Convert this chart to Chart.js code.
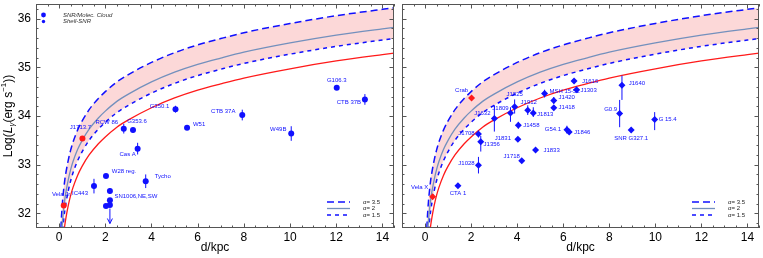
<!DOCTYPE html>
<html>
<head>
<meta charset="utf-8">
<script src="https://cdn.jsdelivr.net/npm/chart.js@4.4.0/dist/chart.umd.min.js"></script>
<style>
  html, body { margin: 0; padding: 0; background: #fff; }
  #wrap { position: relative; width: 763px; height: 258px; }
  .panel { position: absolute; top: 0; height: 258px; }
  #left { left: 0; width: 398px; }
  #right { left: 398px; width: 365px; }
</style>
</head>
<body>
<div id="wrap">
  <div class="panel" id="left"><canvas id="chartLeft"></canvas></div>
  <div class="panel" id="right"><canvas id="chartRight"></canvas></div>
</div>
<script>
// tick labels
const xTickLabels = [0, 2, 4, 6, 8, 10, 12, 14];
const yTickLabels = [32, 33, 34, 35, 36];

// sensitivity curves (distance in kpc, log L)
const curveD = [0.06, 0.08, 0.1, 0.12, 0.15, 0.2, 0.25, 0.3, 0.4, 0.5, 0.6, 0.8, 1, 1.3, 1.7, 2, 2.5, 3, 4, 5, 6, 7, 8, 10, 12, 14, 14.5];
const alpha35 = [31.46, 31.71, 31.90, 32.06, 32.25, 32.50, 32.70, 32.85, 33.10, 33.30, 33.46, 33.71, 33.90, 34.13, 34.36, 34.50, 34.70, 34.85, 35.10, 35.30, 35.46, 35.59, 35.71, 35.90, 36.06, 36.19, 36.22];
const alpha2 = [31.06, 31.31, 31.50, 31.66, 31.85, 32.10, 32.30, 32.45, 32.70, 32.90, 33.06, 33.31, 33.50, 33.73, 33.96, 34.10, 34.30, 34.45, 34.70, 34.90, 35.06, 35.19, 35.31, 35.50, 35.66, 35.79, 35.82];
const alpha15 = [30.83, 31.08, 31.27, 31.43, 31.62, 31.87, 32.07, 32.22, 32.47, 32.67, 32.83, 33.08, 33.27, 33.50, 33.73, 33.87, 34.07, 34.22, 34.47, 34.67, 34.83, 34.96, 35.08, 35.27, 35.43, 35.56, 35.59];
const redCurve = [30.53, 30.78, 30.97, 31.13, 31.32, 31.57, 31.77, 31.92, 32.17, 32.37, 32.53, 32.78, 32.97, 33.20, 33.43, 33.57, 33.77, 33.92, 34.17, 34.37, 34.53, 34.66, 34.78, 34.97, 35.13, 35.26, 35.29];

// left panel: SNRs
const snrNames = ['RCW 86', 'G353.6', 'Cas A', 'G350.1', 'W51', 'CTB 37A', 'W49B', 'G106.3', 'CTB 37B', 'W28 reg.', 'Tycho', 'IC443', 'SN1006,NE,SW', '', '', ''];
const snrDist = [2.8, 3.2, 3.4, 5.04, 5.54, 7.93, 10.05, 12.02, 13.24, 2.03, 3.75, 1.51, 2.2, 2.2, 2.03, 2.2];
const snrLogL = [33.74, 33.71, 33.33, 34.14, 33.76, 34.02, 33.64, 34.58, 34.34, 32.77, 32.66, 32.56, 32.46, 32.27, 32.15, 32.17];
const snrErrUp = [0.10, 0.05, 0.12, 0.07, 0.04, 0.11, 0.15, 0.04, 0.11, 0.04, 0.14, 0.15, 0.06, 0.04, 0.04, 0.04];
const snrErrDown = [0.10, 0.05, 0.12, 0.07, 0.04, 0.11, 0.15, 0.04, 0.11, 0.04, 0.14, 0.15, 0.06, 0.04, 0.04, 0.04];
const snrRedNames = ['Vela Jr.', 'J1713.7'];
const snrRedDist = [0.2, 1.01];
const snrRedLogL = [32.16, 33.54];
const snrRedErr = [0.05, 0.04];
const snrLimitDist = [2.2];
const snrLimitLogL = [32.1];

// right panel: PWNe
const pwnNames = ['CTA 1', 'J1028', 'J1708', 'J1356', 'J1632', 'J1809', 'J1825', 'J1912', 'J1813', 'J1458', 'J1831', 'J1718', 'J1833', 'MSH 15-52', 'J1420', 'J1418', 'G54.1', 'J1846', 'J1616', 'J1303', 'J1640', 'G0.9', 'SNR G327.1', 'G 15.4'];
const pwnDist = [1.43, 2.32, 2.32, 2.42, 3.01, 3.71, 3.89, 4.46, 4.70, 4.05, 4.03, 4.20, 4.80, 5.19, 5.59, 5.59, 6.16, 6.26, 6.47, 6.58, 8.55, 8.45, 8.95, 9.97];
const pwnLogL = [32.57, 32.99, 33.63, 33.47, 33.95, 34.06, 34.19, 34.12, 34.06, 33.81, 33.52, 33.08, 33.30, 34.46, 34.32, 34.17, 33.72, 33.67, 34.72, 34.54, 34.63, 34.05, 33.71, 33.93];
const pwnErrUp = [0.04, 0.17, 0.07, 0.12, 0.27, 0.12, 0.15, 0.10, 0.12, 0.07, 0.03, 0.04, 0.04, 0.08, 0.07, 0.05, 0.08, 0.04, 0.04, 0.04, 0.20, 0.28, 0.05, 0.15];
const pwnErrDown = [0.04, 0.17, 0.07, 0.20, 0.27, 0.18, 0.14, 0.10, 0.08, 0.07, 0.03, 0.04, 0.04, 0.08, 0.07, 0.05, 0.08, 0.04, 0.04, 0.04, 0.30, 0.28, 0.05, 0.22];
const pwnRedNames = ['Crab', 'Vela X'];
const pwnRedDist = [2.02, 0.33];
const pwnRedLogL = [34.37, 32.34];
const pwnRedErr = [0.03, 0.05];

// where each name sits relative to its marker (px)
const labelOffset = {
  'Vela Jr.': [-2, -11], 'J1713.7': [-2, -11], 'RCW 86': [-17, -6], 'G353.6': [4, -9], 'Cas A': [-10, 6],
  'W28 reg.': [18, -5], 'Tycho': [17, -5], 'IC443': [-14, 7], 'SN1006,NE,SW': [26, 5], 'G350.1': [-16, -3],
  'W51': [12, -3], 'CTB 37A': [-19, -4], 'W49B': [-13, -4], 'G106.3': [0, -7], 'CTB 37B': [-16, 3],
  'Vela X': [-13, -9], 'CTA 1': [0, 8], 'J1028': [-12, -2], 'J1708': [-12, -1], 'J1356': [11, 3],
  'J1632': [-12, -5], 'Crab': [-10, -8], 'J1809': [-10, -5], 'J1825': [0, -12], 'J1912': [1, -8],
  'J1813': [12, 1], 'J1458': [13, 0], 'J1831': [-15, -1], 'J1718': [-10, -4], 'J1833': [16, 0],
  'MSH 15-52': [20, -2], 'J1420': [13, -3], 'J1418': [13, 0], 'G54.1': [-14, 0], 'J1846': [13, 0],
  'J1616': [16, 0], 'J1303': [12, 1], 'J1640': [15, -2], 'G0.9': [-9, -4], 'SNR G327.1': [0, 8], 'G 15.4': [13, 0]
};

const FONT = "'Liberation Sans', Arial, sans-serif";
const BLUE = '#1010ff';
const RED = '#ff1a1a';
const STEEL = '#7390bd';
const PINK = '#fcd8d8';

function xy(dist, vals) {
  return dist.map((d, i) => ({ x: d, y: vals[i] }));
}

function drawYTitle(ctx, cx, cy) {
  const parts = [
    { t: 'Log(', f: '12px ' + FONT, dy: 0 },
    { t: 'L', f: 'italic 12px ' + FONT, dy: 0 },
    { t: 'γ', f: 'italic 8px ' + FONT, dy: 3 },
    { t: '(erg s', f: '12px ' + FONT, dy: 0 },
    { t: '−1', f: '8px ' + FONT, dy: -5 },
    { t: '))', f: '12px ' + FONT, dy: 0 }
  ];
  ctx.save();
  ctx.translate(cx, cy);
  ctx.rotate(-Math.PI / 2);
  let w = 0;
  parts.forEach(p => { ctx.font = p.f; p.w = ctx.measureText(p.t).width; w += p.w; });
  let x = -w / 2;
  ctx.fillStyle = '#000';
  ctx.textAlign = 'left';
  ctx.textBaseline = 'middle';
  parts.forEach(p => { ctx.font = p.f; ctx.fillText(p.t, x, p.dy); x += p.w; });
  ctx.restore();
}

const panelPlugin = {
  id: 'panel',
  // error bars go under their own markers
  beforeDatasetDraw(chart, args) {
    const ds = chart.data.datasets[args.index];
    if (!ds.errUp) return;
    const { ctx, scales: { x, y } } = chart;
    ctx.save();
    ctx.strokeStyle = ds.borderColor;
    ctx.lineWidth = 1;
    ds.data.forEach((p, i) => {
      const px = x.getPixelForValue(p.x);
      ctx.beginPath();
      ctx.moveTo(px, y.getPixelForValue(p.y + ds.errUp[i]));
      ctx.lineTo(px, y.getPixelForValue(p.y - ds.errDown[i]));
      ctx.stroke();
    });
    ctx.restore();
  },
  afterDatasetsDraw(chart, args, opts) {
    const { ctx, chartArea: a, scales: { x, y } } = chart;
    ctx.save();

    // upper limit arrows
    if (opts.limitDist) {
      ctx.strokeStyle = BLUE;
      ctx.lineWidth = 1;
      opts.limitDist.forEach((d, i) => {
        const px = x.getPixelForValue(d);
        const py = y.getPixelForValue(opts.limitLogL[i]);
        ctx.beginPath();
        ctx.moveTo(px, py);
        ctx.lineTo(px, py + 15);
        ctx.moveTo(px - 2.5, py + 10);
        ctx.lineTo(px, py + 15);
        ctx.lineTo(px + 2.5, py + 10);
        ctx.stroke();
      });
    }

    // source names
    ctx.font = '6px ' + FONT;
    ctx.fillStyle = BLUE;
    ctx.textAlign = 'center';
    ctx.textBaseline = 'middle';
    chart.data.datasets.forEach(ds => {
      if (!ds.names) return;
      ds.data.forEach((p, i) => {
        const name = ds.names[i];
        if (!name) return;
        const off = labelOffset[name] || [0, -8];
        ctx.fillText(name, x.getPixelForValue(p.x) + off[0], y.getPixelForValue(p.y) + off[1]);
      });
    });

    // frame with inward ticks
    ctx.strokeStyle = '#555';
    ctx.lineWidth = 1;
    ctx.strokeRect(a.left + 0.5, a.top + 0.5, a.right - a.left - 1, a.bottom - a.top - 1);
    ctx.beginPath();
    for (let k = 0; k <= 31; k++) {
      const v = -1 + k * 0.5;
      const len = xTickLabels.includes(v) ? 4.5 : 2.5;
      const px = Math.round(x.getPixelForValue(v)) + 0.5;
      ctx.moveTo(px, a.bottom); ctx.lineTo(px, a.bottom - len);
      ctx.moveTo(px, a.top); ctx.lineTo(px, a.top + len);
    }
    for (let k = 0; k <= 22; k++) {
      const v = 31.8 + k * 0.2;
      const len = Math.abs(v - Math.round(v)) < 1e-6 ? 4.5 : 2.5;
      const py = Math.round(y.getPixelForValue(v)) + 0.5;
      ctx.moveTo(a.left, py); ctx.lineTo(a.left + len, py);
      ctx.moveTo(a.right, py); ctx.lineTo(a.right - len, py);
    }
    ctx.stroke();

    // alpha legend, bottom right
    const rows = [
      { c: BLUE, dash: [7, 4], w: 1.5, t: 'α= 3.5', dy: 26 },
      { c: STEEL, dash: [], w: 1.3, t: 'α= 2', dy: 19.5 },
      { c: BLUE, dash: [4, 4], w: 1.5, t: 'α= 1.5', dy: 13 }
    ];
    ctx.font = '6px ' + FONT;
    ctx.fillStyle = '#222';
    ctx.textAlign = 'left';
    rows.forEach(r => {
      const ly = a.bottom - r.dy;
      ctx.beginPath();
      ctx.setLineDash(r.dash);
      ctx.strokeStyle = r.c;
      ctx.lineWidth = r.w;
      ctx.moveTo(a.right - 67, ly);
      ctx.lineTo(a.right - 44, ly);
      ctx.stroke();
      ctx.setLineDash([]);
      ctx.fillText(r.t, a.right - 31, ly);
    });

    // marker legend, top left
    if (opts.markerLegend) {
      ctx.fillStyle = BLUE;
      ctx.beginPath(); ctx.arc(a.left + 7.5, a.top + 11, 2.4, 0, Math.PI * 2); ctx.fill();
      ctx.beginPath(); ctx.arc(a.left + 7.5, a.top + 17.5, 1.7, 0, Math.PI * 2); ctx.fill();
      ctx.font = 'italic 6px ' + FONT;
      ctx.fillStyle = '#333';
      ctx.fillText('SNR/Molec. Cloud', a.left + 27, a.top + 11);
      ctx.fillText('Shell-SNR', a.left + 27, a.top + 17.5);
    }

    // axis titles
    ctx.font = '12px ' + FONT;
    ctx.fillStyle = '#000';
    ctx.textAlign = 'center';
    ctx.fillText('d/kpc', (a.left + a.right) / 2, 248);
    if (opts.yTitle) drawYTitle(ctx, 9, (a.top + a.bottom) / 2);
    ctx.restore();
  }
};

function curveSets() {
  return [
    { data: xy(curveD, alpha35), showLine: true, pointRadius: 0, borderColor: BLUE, borderWidth: 1.5,
      borderDash: [7, 4], cubicInterpolationMode: 'monotone', fill: { target: 2, above: PINK, below: PINK },
      backgroundColor: PINK, order: 14 },
    { data: xy(curveD, alpha2), showLine: true, pointRadius: 0, borderColor: STEEL, borderWidth: 1.3,
      cubicInterpolationMode: 'monotone', fill: false, order: 12 },
    { data: xy(curveD, alpha15), showLine: true, pointRadius: 0, borderColor: BLUE, borderWidth: 1.5,
      borderDash: [4, 4], cubicInterpolationMode: 'monotone', fill: false, order: 13 },
    { data: xy(curveD, redCurve), showLine: true, pointRadius: 0, borderColor: RED, borderWidth: 1.3,
      cubicInterpolationMode: 'monotone', fill: false, order: 11 }
  ];
}

// no label overhang padding, the frame is placed by hand
function noPad(s) {
  s.paddingTop = 0; s.paddingBottom = 0; s.paddingLeft = 0; s.paddingRight = 0;
}

function makePanel(id, cfg) {
  return new Chart(document.getElementById(id), {
    type: 'scatter',
    data: { datasets: curveSets().concat(cfg.points) },
    options: {
      responsive: true,
      maintainAspectRatio: false,
      animation: false,
      layout: { padding: cfg.padding },
      plugins: {
        legend: { display: false },
        tooltip: { enabled: false },
        panel: cfg.panel
      },
      scales: {
        x: {
          type: 'linear', min: -1, max: 14.5,
          grid: { display: false, drawTicks: false },
          border: { display: false },
          afterBuildTicks: s => { s.ticks = xTickLabels.map(v => ({ value: v })); },
          afterFit: s => { s.height = 30; noPad(s); },
          ticks: { padding: 2, color: '#000', font: { family: FONT, size: 12 }, maxRotation: 0, autoSkip: false }
        },
        y: {
          type: 'linear', min: 31.7, max: 36.3,
          grid: { display: false, drawTicks: false },
          border: { display: false },
          afterBuildTicks: s => { s.ticks = yTickLabels.map(v => ({ value: v })); },
          afterFit: s => { s.width = cfg.yWidth; noPad(s); },
          ticks: { display: cfg.yLabels, padding: 5, color: '#000', font: { family: FONT, size: 12 } }
        }
      }
    },
    plugins: [panelPlugin]
  });
}

makePanel('chartLeft', {
  padding: { top: 3.5, right: 1, left: 0, bottom: 0 },
  yWidth: 36,
  yLabels: true,
  panel: { yTitle: true, markerLegend: true, limitDist: snrLimitDist, limitLogL: snrLimitLogL },
  points: [
    { data: xy(snrDist, snrLogL), names: snrNames, errUp: snrErrUp, errDown: snrErrDown,
      pointStyle: 'circle', pointRadius: 3, backgroundColor: BLUE, borderColor: BLUE, borderWidth: 0, order: 1 },
    { data: xy(snrRedDist, snrRedLogL), names: snrRedNames, errUp: snrRedErr, errDown: snrRedErr,
      pointStyle: 'circle', pointRadius: 3, backgroundColor: RED, borderColor: RED, borderWidth: 0, order: 0 }
  ]
});

makePanel('chartRight', {
  padding: { top: 3.5, right: 3, left: 0, bottom: 0 },
  yWidth: 1,
  yLabels: false,
  panel: { yTitle: false, markerLegend: false },
  points: [
    { data: xy(pwnDist, pwnLogL), names: pwnNames, errUp: pwnErrUp, errDown: pwnErrDown,
      pointStyle: 'rectRot', pointRadius: 3.5, backgroundColor: BLUE, borderColor: BLUE, borderWidth: 0, order: 1 },
    { data: xy(pwnRedDist, pwnRedLogL), names: pwnRedNames, errUp: pwnRedErr, errDown: pwnRedErr,
      pointStyle: 'rectRot', pointRadius: 3.5, backgroundColor: RED, borderColor: RED, borderWidth: 0, order: 0 }
  ]
});
</script>
</body>
</html>
